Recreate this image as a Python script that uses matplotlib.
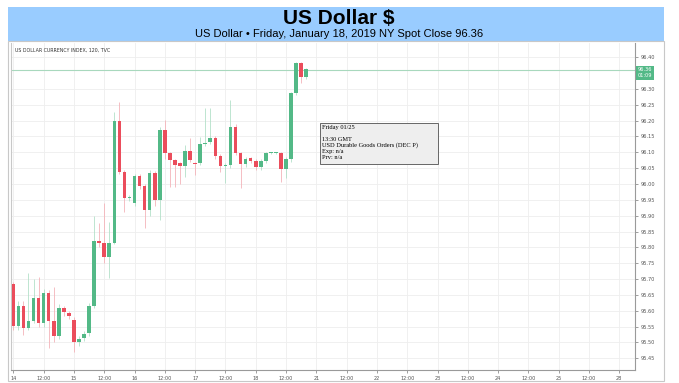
import numpy as np
import matplotlib.pyplot as plt
from matplotlib.patches import Rectangle

# 2-hour candles of the US Dollar index, starting Mon Jan 14 00:00
opens = [95.684, 95.553, 95.616, 95.547, 95.568, 95.641, 95.560, 95.656, 95.569, 95.521,
         95.609, 95.593, 95.571, 95.500, 95.513, 95.529, 95.616, 95.821, 95.815, 95.770,
         95.815, 96.199, 96.039, 95.955, 95.939, 96.025, 95.994, 95.918, 96.036, 95.950,
         96.171, 96.099, 96.076, 96.065, 96.057, 96.105, 96.067, 96.065, 96.126, 96.132,
         96.146, 96.089, 96.058, 96.060, 96.181, 96.097, 96.063, 96.081, 96.072, 96.055,
         96.074, 96.097, 96.097, 96.097, 96.047, 96.079, 96.288, 96.383, 96.337]
highs = [95.690, 95.630, 95.630, 95.719, 95.700, 95.707, 95.670, 95.665, 95.675, 95.620,
         95.615, 95.600, 95.580, 95.520, 95.535, 95.625, 95.899, 95.877, 95.940, 95.881,
         96.228, 96.260, 96.045, 95.965, 96.030, 96.030, 96.000, 96.045, 96.040, 96.180,
         96.202, 96.100, 96.080, 96.070, 96.123, 96.145, 96.070, 96.149, 96.239, 96.239,
         96.150, 96.095, 96.065, 96.265, 96.190, 96.100, 96.085, 96.085, 96.080, 96.080,
         96.100, 96.100, 96.100, 96.100, 96.085, 96.290, 96.385, 96.385, 96.365]
lows = [95.540, 95.540, 95.523, 95.540, 95.560, 95.550, 95.550, 95.482, 95.500, 95.510,
        95.585, 95.575, 95.470, 95.490, 95.505, 95.520, 95.610, 95.800, 95.751, 95.703,
        95.810, 96.030, 95.913, 95.945, 95.930, 95.985, 95.861, 95.900, 95.930, 95.886,
        96.080, 95.990, 95.990, 96.000, 96.023, 96.070, 96.028, 96.060, 96.120, 96.125,
        96.080, 96.039, 96.003, 96.050, 96.090, 95.987, 96.055, 96.065, 96.045, 96.045,
        96.065, 96.094, 96.094, 96.006, 96.019, 96.070, 96.280, 96.320, 96.330]
closes = [95.553, 95.616, 95.547, 95.568, 95.641, 95.560, 95.656, 95.569, 95.521, 95.609,
          95.595, 95.582, 95.500, 95.511, 95.526, 95.616, 95.821, 95.815, 95.770, 95.815,
          96.199, 96.039, 95.955, 95.959, 96.025, 95.994, 95.918, 96.036, 95.950, 96.171,
          96.099, 96.076, 96.060, 96.057, 96.105, 96.076, 96.063, 96.126, 96.130, 96.146,
          96.089, 96.058, 96.058, 96.181, 96.097, 96.063, 96.079, 96.073, 96.055, 96.073,
          96.097, 96.097, 96.097, 96.047, 96.079, 96.288, 96.383, 96.337, 96.362]

last_close = 96.36
day_labels = ['14', '12:00', '15', '12:00', '16', '12:00', '17', '12:00', '18', '12:00',
              '21', '12:00', '22', '12:00', '23', '12:00', '24', '12:00', '25', '12:00', '28']
price_ticks = [95.45, 95.50, 95.55, 95.60, 95.65, 95.70, 95.75, 95.80, 95.85, 95.90, 95.95,
               96.00, 96.05, 96.10, 96.15, 96.20, 96.25, 96.30, 96.40]

up_col = '#53b987'
dn_col = '#eb4d5c'

fig = plt.figure(figsize=(6.79, 3.83), dpi=100)
W, H = 679.0, 383.0

# title banner and chart frame (behind the axes)
fig.patches.append(Rectangle((8 / W, 1 - 41 / H), 656 / W, 34 / H, transform=fig.transFigure,
                             facecolor='#99ccff', edgecolor='none', zorder=-2))
fig.patches.append(Rectangle((8 / W, 1 - 381 / H), 656 / W, 340 / H, transform=fig.transFigure,
                             facecolor='white', edgecolor='#c8c8c8', lw=0.8, zorder=-2))
fnt = ['Liberation Sans Narrow', 'Liberation Sans', 'DejaVu Sans']
fig.text(339 / W, 1 - 19 / H, 'US Dollar $', ha='center', va='center', fontsize=15,
         fontweight='bold', family=fnt)
fig.text(339 / W, 1 - 34 / H, 'US Dollar \u2022 Friday, January 18, 2019 NY Spot Close 96.36',
         ha='center', va='center', fontsize=8, family=fnt)

ax = fig.add_axes([11 / W, 13 / H, 624 / W, 327 / H])
ax.patch.set_alpha(0)

x = np.arange(len(opens))
o = np.array(opens)
c = np.array(closes)
cols = [up_col if cc >= oo else dn_col for oo, cc in zip(o, c)]
wick_cols = ['#b3e0c9' if cc >= oo else '#f4b3b9' for oo, cc in zip(o, c)]

ax.vlines(x, lows, highs, colors=wick_cols, lw=0.6, zorder=2)
body_h = np.maximum(np.abs(c - o), 0.0025)
ax.bar(x, body_h, bottom=np.minimum(o, c), width=0.72, color=cols, zorder=3, linewidth=0)

ax.axhline(last_close, color='#a8d8bd', lw=0.8, zorder=1)

ax.set_xlim(-0.46, 123.1)
ax.set_ylim(95.413, 96.445)
ax.set_xticks(np.arange(0, 121, 6))
ax.set_xticklabels(day_labels)
ax.yaxis.tick_right()
ax.set_yticks(price_ticks)
ax.set_yticklabels(['%.2f' % p for p in price_ticks])
ax.tick_params(axis='both', labelsize=3.6, colors='#555555', length=2, width=0.4, pad=2)
ax.grid(True, color='#eeeeee', lw=0.6)
ax.set_axisbelow(True)
ax.spines['top'].set_visible(False)
ax.spines['left'].set_color('#c8c8c8')
ax.spines['left'].set_linewidth(0.8)
for s in ['right', 'bottom']:
    ax.spines[s].set_color('#9a9a9a')
    ax.spines[s].set_linewidth(0.8)

ax.text(0.006, 0.985, 'US DOLLAR CURRENCY INDEX, 120, TVC', transform=ax.transAxes,
        fontsize=3.4, color='#333333', va='top', ha='left')

# last price tags on the price scale
ax.text(1.004, last_close, '96.36', transform=ax.get_yaxis_transform(), fontsize=3.6,
        color='white', va='center', ha='left',
        bbox=dict(boxstyle='square,pad=0.35', fc=up_col, ec='none'))
ax.text(1.004, last_close - 0.019, '01:09', transform=ax.get_yaxis_transform(), fontsize=3.6,
        color='white', va='center', ha='left',
        bbox=dict(boxstyle='square,pad=0.35', fc=up_col, ec='none'))

# event tooltip
fig.patches.append(Rectangle((320 / W, 1 - 164 / H), 118 / W, 41 / H, transform=fig.transFigure,
                             facecolor='#eeeeee', edgecolor='#666666', lw=0.7, zorder=5))
fig.text(322 / W, 1 - 125 / H,
         'Friday 01/25\n\n13:30 GMT\nUSD Durable Goods Orders (DEC P)\nExp: n/a\nPrv: n/a',
         ha='left', va='top', fontsize=4.6, family=['Liberation Serif', 'DejaVu Serif'],
         linespacing=1.2, zorder=6)

plt.savefig('out.png', dpi=100)
